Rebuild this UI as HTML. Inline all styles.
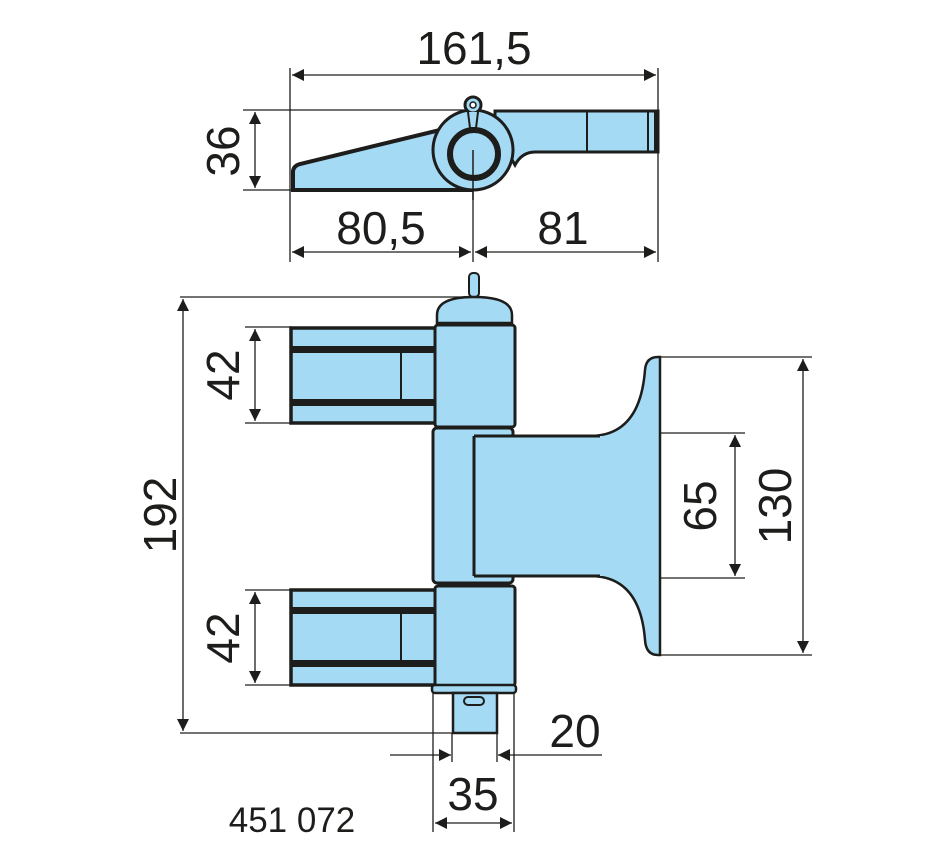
<!DOCTYPE html>
<html><head><meta charset="utf-8"><style>html,body{margin:0;padding:0;background:#fff}svg{display:block}</style></head>
<body>
<svg width="950" height="860" viewBox="0 0 950 860" xmlns="http://www.w3.org/2000/svg">
<defs>
<marker id="a" viewBox="0 0 10 10" refX="10" refY="5" markerWidth="24" markerHeight="12" markerUnits="userSpaceOnUse" orient="auto-start-reverse"><path d="M0,0L10,5L0,10Z" fill="#1d1d1b"/></marker>
</defs>
<g stroke="#1d1d1b" stroke-width="1.3" fill="none">
<line x1="290" y1="68" x2="290" y2="262"/><line x1="658" y1="68" x2="658" y2="262"/>
<line x1="292" y1="75" x2="656" y2="75" marker-start="url(#a)" marker-end="url(#a)"/>
<line x1="243" y1="110" x2="470" y2="110"/><line x1="243" y1="190" x2="292" y2="190"/>
<line x1="255" y1="112" x2="255" y2="188" marker-start="url(#a)" marker-end="url(#a)"/>
<line x1="292" y1="252" x2="471" y2="252" marker-start="url(#a)" marker-end="url(#a)"/>
<line x1="475" y1="252" x2="656" y2="252" marker-start="url(#a)" marker-end="url(#a)"/>
<line x1="473" y1="150" x2="473" y2="262"/>
<line x1="180" y1="297" x2="470" y2="297"/><line x1="180" y1="733" x2="452" y2="733"/>
<line x1="183" y1="299" x2="183" y2="731" marker-start="url(#a)" marker-end="url(#a)"/>
<line x1="245" y1="327" x2="292" y2="327"/><line x1="245" y1="423" x2="292" y2="423"/>
<line x1="255" y1="329" x2="255" y2="421" marker-start="url(#a)" marker-end="url(#a)"/>
<line x1="245" y1="590" x2="292" y2="590"/><line x1="245" y1="685" x2="292" y2="685"/>
<line x1="255" y1="592" x2="255" y2="683" marker-start="url(#a)" marker-end="url(#a)"/>
<line x1="658" y1="433" x2="745" y2="433"/><line x1="658" y1="578" x2="745" y2="578"/>
<line x1="735" y1="435" x2="735" y2="576" marker-start="url(#a)" marker-end="url(#a)"/>
<line x1="658" y1="357" x2="812" y2="357"/><line x1="658" y1="655" x2="812" y2="655"/>
<line x1="803" y1="359" x2="803" y2="653" marker-start="url(#a)" marker-end="url(#a)"/>
<line x1="433" y1="693" x2="433" y2="832"/><line x1="514" y1="693" x2="514" y2="832"/>
<line x1="452" y1="733" x2="452" y2="762"/><line x1="497" y1="733" x2="497" y2="762"/>
<line x1="390" y1="755" x2="451" y2="755" marker-end="url(#a)"/>
<line x1="602" y1="755" x2="498" y2="755" marker-end="url(#a)"/>
<line x1="435" y1="823" x2="512" y2="823" marker-start="url(#a)" marker-end="url(#a)"/>
</g>
<g fill="#a5daf5" stroke="#1d1d1b">
<path d="M293,190 L293,172 Q293,166 300,164 L440,130 L470,190 Z" stroke-width="4"/>
<path d="M495,111 L658,111 L658,152 L535,152 Q522,152 515,165 L495,130 Z" stroke-width="3"/>
<circle cx="473" cy="150" r="40" stroke-width="3"/>
<circle cx="473" cy="105" r="8" stroke-width="3"/>
<circle cx="473" cy="105" r="3" fill="#fff" stroke-width="1.5"/>
<path d="M468,112 L470,128 L476,128 L478,112" stroke-width="2"/>
<circle cx="474" cy="154" r="24" stroke-width="6"/>
<line x1="587" y1="111" x2="587" y2="152" stroke-width="2"/>
<line x1="648" y1="111" x2="648" y2="152" stroke-width="2"/>
<line x1="656" y1="111" x2="656" y2="152" stroke-width="4"/>
</g>
<line x1="473" y1="150" x2="473" y2="200" stroke="#1d1d1b" stroke-width="1.5"/>
<g fill="#a5daf5" stroke="#1d1d1b" stroke-width="3">
<rect x="469" y="273" width="10" height="24" rx="4" stroke-width="2"/>
<path d="M437,323 L437,315 Q437,297 474,297 Q512,297 512,315 L512,323 Z" stroke-width="2.5"/>
<rect x="291" y="328" width="153" height="95" stroke-width="3.5"/>
<rect x="292" y="346" width="150" height="7" fill="#1d1d1b" stroke="none"/>
<rect x="292" y="399" width="150" height="7" fill="#1d1d1b" stroke="none"/>
<line x1="401" y1="352" x2="401" y2="400" stroke-width="2"/>
<rect x="435" y="325" width="80" height="102" rx="3"/>
<rect x="291" y="590" width="153" height="95" stroke-width="3.5"/>
<rect x="292" y="607" width="150" height="7" fill="#1d1d1b" stroke="none"/>
<rect x="292" y="660" width="150" height="7" fill="#1d1d1b" stroke="none"/>
<line x1="401" y1="613" x2="401" y2="661" stroke-width="2"/>
<rect x="435" y="586" width="80" height="100" rx="3"/>
<rect x="432" y="685" width="84" height="8" rx="3" stroke-width="2.5"/>
<rect x="453" y="693" width="44" height="40" stroke-width="2.5"/>
<rect x="464" y="697" width="20" height="8" rx="4" stroke-width="2"/>
<path d="M590,436 Q640,436 645,370 Q646,357 658,357 L660,357 L660,655 L658,655 Q646,655 645,640 Q640,576 590,576 Z" stroke-width="2.5"/>
<rect x="433" y="428" width="80" height="155" rx="4"/>
<rect x="474" y="436" width="184" height="140" stroke="none"/>
<path d="M474,436 L600,436 M474,576 L600,576 M474,436 L474,576" stroke-width="3"/>
</g>
<g font-family="Liberation Sans, sans-serif" font-size="46" fill="#1d1d1b" text-anchor="middle">
<text x="474" y="64">161,5</text>
<text x="381" y="244">80,5</text>
<text x="563" y="244">81</text>
<text transform="translate(239,151) rotate(-90)">36</text>
<text transform="translate(239,375) rotate(-90)">42</text>
<text transform="translate(239,638) rotate(-90)">42</text>
<text transform="translate(176,515) rotate(-90)">192</text>
<text transform="translate(716,506) rotate(-90)">65</text>
<text transform="translate(791,506) rotate(-90)">130</text>
<text x="575" y="747">20</text>
<text x="473" y="810">35</text>
<text x="292" y="832" font-size="35">451 072</text>
</g>
</svg>
</body></html>
